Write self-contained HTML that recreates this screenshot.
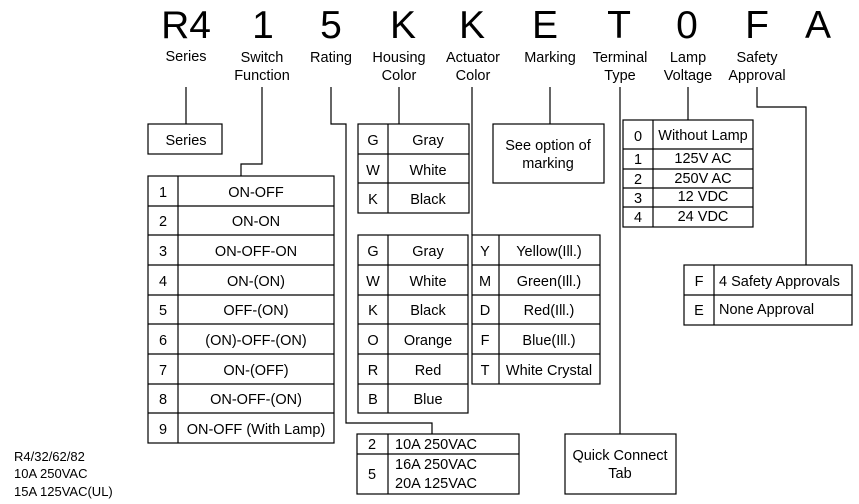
<!DOCTYPE html>
<html><head><style>body{margin:0;background:#fff}svg{display:block}text{font-family:"Liberation Sans",Arial,sans-serif;fill:#000}</style></head><body>
<svg width="859" height="504" viewBox="0 0 859 504" xmlns="http://www.w3.org/2000/svg">
<g font-size="39" text-anchor="middle">
<text x="186" y="38">R4</text><text x="263" y="38">1</text><text x="331" y="38">5</text><text x="403" y="38">K</text><text x="472" y="38">K</text><text x="545" y="38">E</text><text x="619" y="38">T</text><text x="687" y="38">0</text><text x="757" y="38">F</text><text x="818" y="38">A</text>
</g>
<g font-size="14.5" text-anchor="middle">
<text x="186" y="61">Series</text>
<text x="262" y="62">Switch</text><text x="262" y="80">Function</text>
<text x="331" y="62">Rating</text>
<text x="399" y="62">Housing</text><text x="399" y="80">Color</text>
<text x="473" y="62">Actuator</text><text x="473" y="80">Color</text>
<text x="550" y="62">Marking</text>
<text x="620" y="62">Terminal</text><text x="620" y="80">Type</text>
<text x="688" y="62">Lamp</text><text x="688" y="80">Voltage</text>
<text x="757" y="62">Safety</text><text x="757" y="80">Approval</text>
</g>
<g stroke="#000" stroke-width="1.2" fill="none">
<path d="M186 87V124M262 87V164H241V176M331 87V124H346V423H432V434M399 87V124M472 87V235M550 87V124M620 87V434M688 87V120M757 87V107H806V265"/>
<rect x="148" y="124" width="74" height="30"/>
<rect x="148" y="176" width="186" height="267"/><path d="M178 176V443M148 206H334M148 235H334M148 265H334M148 295H334M148 324H334M148 354H334M148 384H334M148 413H334"/>
<rect x="358" y="124" width="111" height="89"/><path d="M388 124V213M358 154H469M358 183H469"/>
<rect x="358" y="235" width="110" height="178"/><path d="M388 235V413M358 265H468M358 295H468M358 324H468M358 354H468M358 384H468"/>
<rect x="472" y="235" width="128" height="149"/><path d="M499 235V384M472 265H600M472 295H600M472 324H600M472 354H600"/>
<rect x="357" y="434" width="162" height="60"/><path d="M388 434V494M357 454H519"/>
<rect x="493" y="124" width="111" height="59"/>
<rect x="565" y="434" width="111" height="60"/>
<rect x="623" y="120" width="130" height="107"/><path d="M653 120V227M623 149H753M623 169H753M623 188H753M623 207H753"/>
<rect x="684" y="265" width="168" height="60"/><path d="M714 265V325M684 295H852"/>
</g>
<g font-size="14.5" text-anchor="middle">
<text x="186" y="145">Series</text>
<text x="163" y="197">1</text><text x="256" y="197">ON-OFF</text>
<text x="163" y="226">2</text><text x="256" y="226">ON-ON</text>
<text x="163" y="256">3</text><text x="256" y="256">ON-OFF-ON</text>
<text x="163" y="286">4</text><text x="256" y="286">ON-(ON)</text>
<text x="163" y="315">5</text><text x="256" y="315">OFF-(ON)</text>
<text x="163" y="345">6</text><text x="256" y="345">(ON)-OFF-(ON)</text>
<text x="163" y="375">7</text><text x="256" y="375">ON-(OFF)</text>
<text x="163" y="404">8</text><text x="256" y="404">ON-OFF-(ON)</text>
<text x="163" y="434">9</text><text x="256" y="434">ON-OFF (With Lamp)</text>
<text x="373" y="145">G</text><text x="428" y="145">Gray</text>
<text x="373" y="175">W</text><text x="428" y="175">White</text>
<text x="373" y="204">K</text><text x="428" y="204">Black</text>
<text x="373" y="256">G</text><text x="428" y="256">Gray</text>
<text x="373" y="286">W</text><text x="428" y="286">White</text>
<text x="373" y="315">K</text><text x="428" y="315">Black</text>
<text x="373" y="345">O</text><text x="428" y="345">Orange</text>
<text x="373" y="375">R</text><text x="428" y="375">Red</text>
<text x="373" y="404">B</text><text x="428" y="404">Blue</text>
<text x="485" y="256">Y</text><text x="549" y="256">Yellow(Ill.)</text>
<text x="485" y="286">M</text><text x="549" y="286">Green(Ill.)</text>
<text x="485" y="315">D</text><text x="549" y="315">Red(Ill.)</text>
<text x="485" y="345">F</text><text x="549" y="345">Blue(Ill.)</text>
<text x="485" y="375">T</text><text x="549" y="375">White Crystal</text>
<text x="548" y="150">See option of</text><text x="548" y="168">marking</text>
<text x="620" y="460">Quick Connect</text><text x="620" y="478">Tab</text>
<text x="372" y="449">2</text><text x="372" y="479">5</text>
<text x="638" y="141">0</text><text x="703" y="140">Without Lamp</text>
<text x="638" y="164">1</text><text x="703" y="163">125V AC</text>
<text x="638" y="184">2</text><text x="703" y="183">250V AC</text>
<text x="638" y="203">3</text><text x="703" y="201">12 VDC</text>
<text x="638" y="222">4</text><text x="703" y="221">24 VDC</text>
<text x="699" y="286">F</text><text x="699" y="315">E</text>
</g>
<g font-size="14.5">
<text x="395" y="449">10A 250VAC</text><text x="395" y="469">16A 250VAC</text><text x="395" y="488">20A 125VAC</text>
<text x="719" y="286">4 Safety Approvals</text><text x="719" y="314">None Approval</text>
</g>
<g font-size="13">
<text x="14" y="461">R4/32/62/82</text><text x="14" y="478">10A 250VAC</text><text x="14" y="496">15A 125VAC(UL)</text>
</g>
</svg>
</body></html>
